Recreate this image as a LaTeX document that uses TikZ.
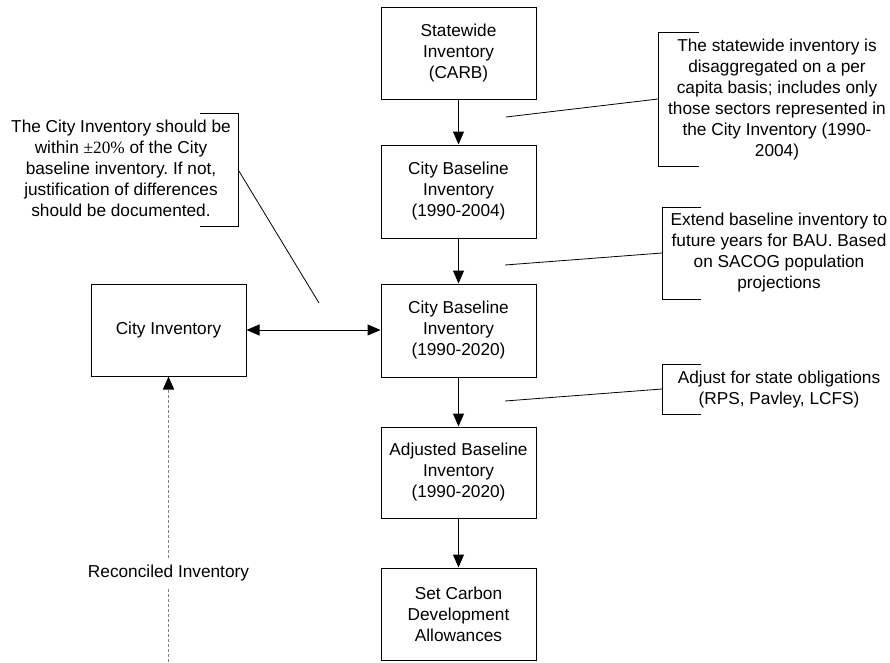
\documentclass[tikz,border=0pt]{standalone}
\usepackage{fontspec}
\setmainfont{Liberation Sans}
\newfontfamily\serifx{Liberation Serif}
\usetikzlibrary{arrows.meta}
\newcommand{\txtfont}{\fontsize{17.25}{21}\selectfont}
\frenchspacing
\begin{document}
\begin{tikzpicture}[x=1pt,y=-1pt,
  box/.style={draw, line width=1pt, minimum width=155pt, minimum height=92pt, align=center, inner sep=0pt, font=\txtfont},
  txt/.style={align=center, inner sep=0pt, font=\txtfont},
  arr/.style={line width=1pt, -{Triangle[length=13pt,width=11pt]}},
  dblarr/.style={line width=1pt, {Triangle[length=13pt,width=11pt]}-{Triangle[length=13pt,width=11pt]}},
  recline/.style={line width=1.5pt, draw=black!50, dash pattern=on 3pt off 2pt},
  bracket/.style={line width=1pt},
  callline/.style={line width=0.8pt}]
\useasboundingbox[fill=white] (0,0) rectangle (890,662);

% main column
\node[box] (stw) at (458.5,53) {Statewide\\Inventory\\(CARB)};
\node[box, minimum height=93pt] (cb04) at (458.5,191.5) {City Baseline\\Inventory\\(1990-2004)};
\node[box, minimum height=93pt] (cb20) at (458.5,330.5) {City Baseline\\Inventory\\(1990-2020)};
\node[box, minimum height=91pt] (adj) at (458.5,472.5) {Adjusted Baseline\\Inventory\\(1990-2020)};
\node[box] (setc) at (458.5,614) {Set Carbon\\Development\\Allowances};
\node[box] (city) at (168.5,330) {City Inventory};

\draw[arr] (stw) -- (cb04);
\draw[arr] (cb04) -- (cb20);
\draw[arr] (cb20) -- (adj);
\draw[arr] (adj) -- (setc);
\draw[dblarr] (city.east) -- (cb20.west |- city.east);

% reconciled inventory
\node[txt, inner xsep=2pt, inner ysep=6.5pt] (rec) at (168.5,573) {Reconciled Inventory};
\coordinate (rbot) at (168.5,662);
\draw[recline] (rbot) -- (rec.south);
\draw[recline, -{Triangle[length=13pt,width=11pt,black]}] (rec.north) -- (city.south);

% left callout
\node[txt] (n0) at (121,168) {The City Inventory should be\\within {\serifx ±20\%} of the City\\baseline inventory. If not,\\justification of differences\\should be documented.};
\draw[bracket] (200,113) -- (238,113) -- (238,226) -- (200,226);
\coordinate (b0) at (238,169.5);
\coordinate (s0) at (319,303);
\draw[callline] (b0) -- (s0);

% callout 1
\node[txt] (n1) at (777,100) {The statewide inventory is\\disaggregated on a per\\capita basis; includes only\\those sectors represented in\\the City Inventory (1990-\\2004)};
\draw[bracket] (699,32) -- (658,32) -- (658,166) -- (699,166);
\coordinate (b1) at (658,99);
\coordinate (s1) at (506,117);
\draw[callline] (s1) -- (b1);

% callout 2
\node[txt] (n2) at (779,253) {Extend baseline inventory to\\future years for BAU. Based\\on SACOG population\\projections};
\draw[bracket] (701,207) -- (662,207) -- (662,299) -- (701,299);
\coordinate (b2) at (662,253);
\coordinate (s2) at (505,265);
\draw[callline] (s2) -- (b2);

% callout 3
\node[txt] (n3) at (779,390) {Adjust for state obligations\\(RPS, Pavley, LCFS)};
\draw[bracket] (701,364) -- (662,364) -- (662,414) -- (701,414);
\coordinate (b3) at (662,389);
\coordinate (s3) at (505,401);
\draw[callline] (s3) -- (b3);
\end{tikzpicture}
\end{document}
